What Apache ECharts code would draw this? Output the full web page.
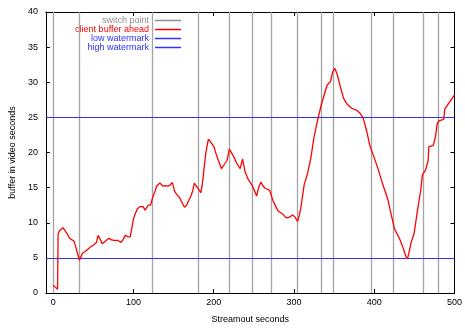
<!DOCTYPE html>
<html><head><meta charset="utf-8">
<script src="https://cdn.jsdelivr.net/npm/echarts@6/dist/echarts.min.js"></script>
<style>html,body{margin:0;padding:0;background:#fff}#c{width:465px;height:329px}</style>
</head><body><div id="c"></div>
<script>
const xTicks = [0, 100, 200, 300, 400, 500];
const yTicks = [0, 5, 10, 15, 20, 25, 30, 35, 40];
const switchPoints = [0, 32.4, 123.2, 181, 219.6, 247.5, 271.6, 303.5, 333.4, 349, 396, 424, 460.6, 479.4];
const lowWatermark = 5;
const highWatermark = 25;
const bufferX = [0,1,3,4,5.5,6,6.2,8,10,12.3,14,17,20.5,23,25.8,28,30,32.7,34,36.8,40,44,47,50,52,54,56,57.5,59.3,61,62.6,65.4,67,69.5,72,75.7,78,80.6,82,84.6,87,90,93,96,98,100,102,105,108.4,112,114.5,116,118.6,121.4,123,124.7,127,128.8,133,135,137,140,143,146,148.4,151.3,154,157.5,160,163.6,166.4,169,171.7,174,175.9,178,180,184,185.5,187,190,193.4,196.2,200.4,203,205.7,209.8,211.5,213.9,216.7,219.5,220.8,223,225,229,233,236,239,243.3,247,249.4,253.5,256,258.8,261,263.7,266,269.8,272,274,277,280,286.2,290.3,294.3,298.5,301.3,304.6,306.5,308.7,312.7,316.9,321,325,330,334.1,338.2,341.4,345.5,348.3,350.8,353.7,357.7,361.8,366,372,378.2,382.3,386.3,390.5,394.5,398.6,404.7,410.8,417,421.1,425.2,431.3,435.4,439.5,441.5,443.6,445.7,449.7,453.8,458,460,464,467.2,468,473.4,476.3,478.3,480.4,486.5,488,494.7,500];
const bufferY = [1.1,0.9,0.8,0.6,0.55,0.5,8.4,8.9,9.1,9.3,9.1,8.5,7.8,7.6,7.4,6.6,5.8,4.65,5.0,5.7,5.9,6.3,6.6,6.8,6.8,7.2,8.2,8.0,7.5,7.0,6.8,7.4,7.5,7.8,7.6,7.5,7.6,7.5,7.7,7.2,7.6,8.2,8.0,8.0,9.2,10.5,11.2,12.0,12.3,12.3,11.8,11.7,12.5,12.5,13.2,13.8,14.5,15.2,15.65,15.4,15.2,15.3,15.2,15.4,15.75,14.5,14.0,13.6,13.0,12.2,12.5,13.2,13.8,14.6,15.65,15.4,14.95,14.3,15.2,16.6,19.8,21.9,21.5,20.8,19.8,18.9,17.7,17.8,18.4,18.9,20.5,20.7,19.8,19.4,18.4,17.7,19.1,17.3,16.1,15.5,14.95,13.8,15.0,15.8,15.3,14.95,14.7,14.6,13.8,13.1,12.4,11.7,11.2,10.7,10.8,11.1,10.8,10.2,11.0,12.2,15.4,17.0,19.2,22.2,24.9,26.8,28.4,29.6,30.1,31.5,32.0,31.2,29.4,27.7,26.9,26.3,26.0,25.6,24.9,23.1,21.0,19.7,17.7,15.4,13.3,11.2,9.15,7.8,6.6,5.2,4.9,5.9,7.1,8.5,11.7,14.7,16.8,17.5,18.9,20.8,21.0,22.2,24.0,24.5,24.7,26.2,27.3,28.2];
const legendNames = ['switch point', 'client buffer ahead', 'low watermark', 'high watermark'];

const FONT = "'Liberation Sans', Arial, sans-serif";
const FS = 9;
const GRAY = '#a4a4a4';
const RED = '#ff0000';
const BLUE = '#3030ff';
const legendColors = ['#909090', RED, BLUE, BLUE];
const legendTextColors = ['#909090', RED, BLUE, BLUE];

const chart = echarts.init(document.getElementById('c'), null, {renderer: 'canvas'});

function axisBase() {
  return {
    axisLine: {show: true, onZero: false, lineStyle: {color: '#000', width: 1}},
    splitLine: {show: false},
    axisTick: {show: true, inside: true, length: 4, lineStyle: {color: '#000'}},
  };
}

const legendGraphics = [];
legendNames.forEach((n, i) => {
  const y = 20.5 + i * 9;
  legendGraphics.push({
    type: 'text', x: 149, y: y,
    style: {text: n, fill: legendTextColors[i], font: FS + 'px ' + FONT, align: 'right', verticalAlign: 'middle'},
    silent: true
  });
  legendGraphics.push({
    type: 'line', x: 0, y: 0,
    shape: {x1: 155, y1: y, x2: 181, y2: y},
    style: {stroke: legendColors[i], lineWidth: 1.5},
    silent: true
  });
});

const option = {
  animation: false,
  backgroundColor: '#fff',
  grid: {left: 41, right: 9, top: 12, bottom: 30, containLabel: false},
  xAxis: [
    Object.assign(axisBase(), {
      type: 'value', position: 'bottom', min: -9, max: 500,
      axisTick: {show: true, inside: true, length: 4, customValues: xTicks, lineStyle: {color: '#000'}},
      axisLabel: {customValues: xTicks, color: '#000', fontFamily: FONT, fontSize: FS, margin: 5},
      name: 'Streamout seconds', nameLocation: 'middle', nameGap: 22,
      nameTextStyle: {color: '#000', fontFamily: FONT, fontSize: FS}
    }),
    Object.assign(axisBase(), {
      type: 'value', position: 'top', min: -9, max: 500,
      axisTick: {show: true, inside: true, length: 4, customValues: xTicks, lineStyle: {color: '#000'}},
      axisLabel: {show: false}
    })
  ],
  yAxis: [
    Object.assign(axisBase(), {
      type: 'value', position: 'left', min: 0, max: 40, interval: 5,
      axisLabel: {color: '#000', fontFamily: FONT, fontSize: FS, margin: 8},
      name: 'buffer in video seconds', nameLocation: 'middle', nameGap: 27, nameRotate: 90,
      nameTextStyle: {color: '#000', fontFamily: FONT, fontSize: FS}
    }),
    Object.assign(axisBase(), {
      type: 'value', position: 'right', min: 0, max: 40, interval: 5,
      axisLabel: {show: false}
    })
  ],
  series: [
    {
      name: legendNames[0], type: 'line', data: [], silent: true,
      markLine: {
        silent: true, symbol: ['none', 'none'], label: {show: false},
        lineStyle: {color: GRAY, width: 1.3, type: 'solid'},
        emphasis: {disabled: true},
        data: switchPoints.map(v => ({xAxis: v}))
      }
    },
    {
      name: legendNames[2], type: 'line', data: [], silent: true, color: BLUE,
      markLine: {
        silent: true, symbol: ['none', 'none'], label: {show: false},
        lineStyle: {color: BLUE, width: 1.2, type: 'solid'},
        emphasis: {disabled: true},
        data: [{yAxis: lowWatermark}]
      }
    },
    {
      name: legendNames[3], type: 'line', data: [], silent: true, color: BLUE,
      markLine: {
        silent: true, symbol: ['none', 'none'], label: {show: false},
        lineStyle: {color: BLUE, width: 1.2, type: 'solid'},
        emphasis: {disabled: true},
        data: [{yAxis: highWatermark}]
      }
    },
    {
      name: legendNames[1], type: 'line', showSymbol: false, symbol: 'none',
      data: bufferX.map((x, i) => [x, bufferY[i]]),
      lineStyle: {color: RED, width: 1.3}, itemStyle: {color: RED}, z: 5
    }
  ],
  graphic: legendGraphics
};
chart.setOption(option);
</script>
</body></html>
